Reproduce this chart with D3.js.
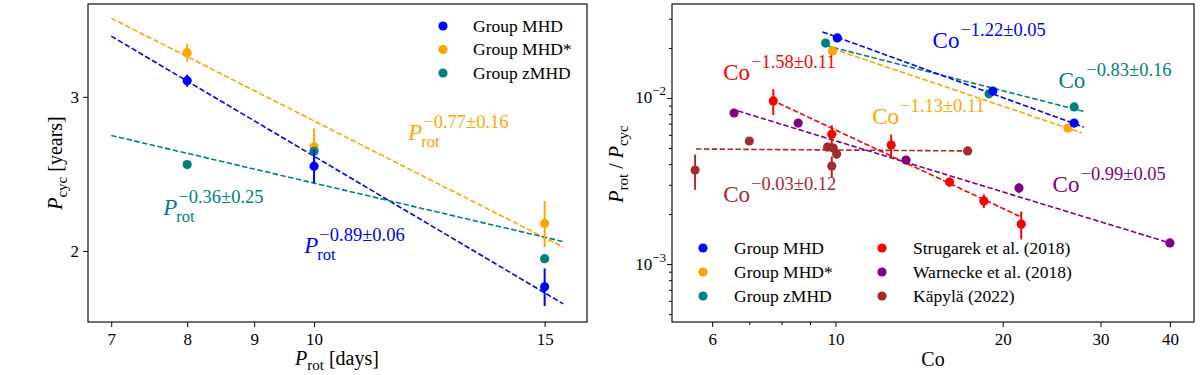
<!DOCTYPE html>
<html>
<head>
<meta charset="utf-8">
<script src="https://cdn.jsdelivr.net/npm/d3@7"></script>
<style>
  body { margin: 0; background: #fff; }
</style>
</head>
<body>
<script>
// ---- left panel data: P_cyc vs P_rot ----
const prot = [8, 10, 15];
const pcycMHD = [3.13, 2.50, 1.82];
const pcycMHDErr = [0.05, 0.11, 0.09];
const pcycMHDs = [3.37, 2.63, 2.15];
const pcycMHDsErr = [0.08, 0.13, 0.13];
const pcycZMHD = [2.51, 2.60, 1.96];
const pcycZMHDErr = [0, 0, 0];

// fitted power laws, end points
const fitProt = [7, 15.5];
const fitMHD = [3.52, 1.74];
const fitMHDs = [3.69, 2.02];
const fitZMHD = [2.71, 2.05];

const xTicksLeft = [7, 8, 9, 10, 15];
const yTicksLeft = [2, 3];

// ---- right panel data: P_rot/P_cyc vs Co ----
const coMHD = [10.08, 19.2, 26.9];
const ratioMHD = [0.0230, 0.0110, 0.00706];
const coMHDs = [9.88, 26.2];
const ratioMHDs = [0.0192, 0.00659];
const coZMHD = [9.6, 18.9, 26.9];
const ratioZMHD = [0.0214, 0.0106, 0.00883];

const coStrugarek = [7.73, 9.85, 12.6, 16.05, 18.5, 21.6];
const ratioStrugarek = [0.0096, 0.00605, 0.00521, 0.00312, 0.0024, 0.00174];
const errStrugarek = [0.0017, 0.0008, 0.0008, 0.0002, 0.00023, 0.00033];

const coWarnecke = [6.57, 8.57, 13.4, 21.4, 40];
const ratioWarnecke = [0.00812, 0.00706, 0.00423, 0.00287, 0.00134];
const errWarnecke = [0, 0, 0, 0.0002, 0];

const coKapyla = [5.59, 7.0, 9.68, 9.91, 10.05, 9.85, 17.3];
const ratioKapyla = [0.00368, 0.00551, 0.00507, 0.0050, 0.0046, 0.00389, 0.0048];
const errKapyla = [0.00088, 0.0003, 0.0003, 0, 0.0003, 0.00055, 0];

const fitCoMHD = [9.48, 28.0], fitRatioMHD = [0.025, 0.00668];
const fitCoMHDs = [9.88, 27.8], fitRatioMHDs = [0.0198, 0.00616];
const fitCoZMHD = [9.6, 28.0], fitRatioZMHD = [0.0207, 0.0083];
const fitCoStrugarek = [7.9, 21.6], fitRatioStrugarek = [0.0093, 0.00192];
const fitCoWarnecke = [6.68, 40], fitRatioWarnecke = [0.00835, 0.00134];
const fitCoKapyla = [5.61, 17.3], fitRatioKapyla = [0.00493, 0.0048];

const xTicksRight = [6, 10, 20, 30, 40];
const xMinorRight = [7, 8, 9];
const yTicksRight = [1e-3, 1e-2];
const yMinorRight = [5e-4, 6e-4, 7e-4, 8e-4, 9e-4, 2e-3, 3e-3, 4e-3, 5e-3, 6e-3, 7e-3, 8e-3, 9e-3, 2e-2, 3e-2];

const C = {
    blue: '#0000ff', orange: '#ffa500', teal: '#008080',
    red: '#ff0000', purple: '#800080', brown: '#a52a2a'
};
// generic 'serif' falls back to a sans face here, so name the font
const FONT = '"Liberation Serif", "DejaVu Serif"';

const svg = d3.select('body').append('svg')
    .attr('width', 1200)
    .attr('height', 375)
    .style('font-family', FONT);

const xL = d3.scaleLog().domain([6.72, 16.16]).range([88, 587]);
const yL = d3.scaleLog().domain([1.659, 3.83]).range([322, 4]);
const xR = d3.scaleLog().domain([5.08, 44.2]).range([672, 1194]);
const yR = d3.scaleLog().domain([4.48e-4, 0.0368]).range([322, 4]);

function zip(xs, ys, es) {
    return xs.map((x, i) => ({ x: x, y: ys[i], e: es ? es[i] : 0 }));
}

function txt(g) {
    return g.append('text').style('font-family', FONT);
}

function fitLine(g, x, y, xs, ys, color) {
    g.append('path')
        .datum(zip(xs, ys))
        .attr('d', d3.line().x(d => x(d.x)).y(d => y(d.y)))
        .attr('fill', 'none')
        .attr('stroke', color)
        .attr('stroke-width', 1.6)
        .attr('stroke-dasharray', '5.5,2.4');
}

function points(g, x, y, data, color) {
    g.selectAll(null).data(data.filter(d => d.e > 0)).enter()
        .append('line')
        .attr('x1', d => x(d.x)).attr('x2', d => x(d.x))
        .attr('y1', d => y(d.y - d.e)).attr('y2', d => y(d.y + d.e))
        .attr('stroke', color)
        .attr('stroke-width', 2);
    g.selectAll(null).data(data).enter()
        .append('circle')
        .attr('cx', d => x(d.x)).attr('cy', d => y(d.y))
        .attr('r', 4.6)
        .attr('fill', color);
}

// base text with a stacked sub- and superscript, like mathtext
function mathText(g, px, py, base, sub, sup, color, italic) {
    const t = txt(g)
        .attr('x', px).attr('y', py)
        .attr('fill', color)
        .attr('font-size', '23px')
        .attr('font-style', italic ? 'italic' : 'normal')
        .text(base);
    const w = t.node().getComputedTextLength();
    if (sub) {
        txt(g).attr('x', px + w - 1).attr('y', py + 7)
            .attr('fill', color).attr('font-size', '16.5px')
            .text(sub);
    }
    txt(g).attr('x', px + w + 1).attr('y', py - 12)
        .attr('fill', color).attr('font-size', '18.5px')
        .text(sup);
}

function styleAxis(a) {
    a.style('font-family', FONT);
    a.select('.domain').remove();
    a.selectAll('.tick line').attr('stroke', '#000').attr('stroke-width', 1);
    a.selectAll('.tick text')
        .attr('fill', '#000')
        .attr('font-size', '17px')
        .style('font-family', FONT);
}

function frame(x, y) {
    svg.append('rect')
        .attr('x', x.range()[0]).attr('y', y.range()[1])
        .attr('width', x.range()[1] - x.range()[0])
        .attr('height', y.range()[0] - y.range()[1])
        .attr('fill', 'none')
        .attr('stroke', '#111')
        .attr('stroke-width', 1.2);
}

// ================= left panel =================
const gL = svg.append('g');

styleAxis(gL.append('g')
    .attr('transform', 'translate(0,322)')
    .call(d3.axisBottom(xL).tickValues(xTicksLeft).tickSize(5).tickPadding(6).tickFormat(d3.format('d'))));
styleAxis(gL.append('g')
    .attr('transform', 'translate(88,0)')
    .call(d3.axisLeft(yL).tickValues(yTicksLeft).tickSize(5).tickPadding(4).tickFormat(d3.format('d'))));

fitLine(gL, xL, yL, fitProt, fitMHDs, C.orange);
fitLine(gL, xL, yL, fitProt, fitMHD, C.blue);
fitLine(gL, xL, yL, fitProt, fitZMHD, C.teal);

points(gL, xL, yL, zip(prot, pcycMHDs, pcycMHDsErr), C.orange);
points(gL, xL, yL, zip(prot, pcycZMHD, pcycZMHDErr), C.teal);
points(gL, xL, yL, zip(prot, pcycMHD, pcycMHDErr), C.blue);

frame(xL, yL);

mathText(gL, xL(11.8), yL(2.68), 'P', 'rot', '\u22120.77\u00b10.16', C.orange, true);
mathText(gL, xL(7.67), yL(2.2), 'P', 'rot', '\u22120.36\u00b10.25', C.teal, true);
mathText(gL, xL(9.83), yL(1.99), 'P', 'rot', '\u22120.89\u00b10.06', C.blue, true);

// legend
const legL = [['Group MHD', C.blue], ['Group MHD*', C.orange], ['Group zMHD', C.teal]];
legL.forEach((d, i) => {
    const yy = 26 + i * 23.5;
    gL.append('circle').attr('cx', 443).attr('cy', yy).attr('r', 4.6).attr('fill', d[1]);
    txt(gL).attr('x', 473).attr('y', yy + 5.5)
        .attr('font-size', '17.5px').attr('fill', '#000').text(d[0]);
});

// axis labels
const yLab = txt(gL)
    .attr('transform', 'translate(62,163) rotate(-90)')
    .attr('text-anchor', 'middle')
    .attr('font-size', '20px');
yLab.append('tspan').attr('font-style', 'italic').text('P');
yLab.append('tspan').attr('dy', 5).attr('font-size', '15px').text('cyc');
yLab.append('tspan').attr('dy', -5).text(' [years]');

const xLab = txt(gL)
    .attr('x', 337).attr('y', 365)
    .attr('text-anchor', 'middle')
    .attr('font-size', '20px');
xLab.append('tspan').attr('font-style', 'italic').text('P');
xLab.append('tspan').attr('dy', 5).attr('font-size', '15px').text('rot');
xLab.append('tspan').attr('dy', -5).text(' [days]');

// ================= right panel =================
const gR = svg.append('g');

styleAxis(gR.append('g')
    .attr('transform', 'translate(0,322)')
    .call(d3.axisBottom(xR).tickValues(xTicksRight).tickSize(5).tickPadding(6).tickFormat(d3.format('d'))));
styleAxis(gR.append('g')
    .attr('transform', 'translate(0,322)')
    .call(d3.axisBottom(xR).tickValues(xMinorRight).tickSize(3).tickFormat('')));
const yAxR = gR.append('g')
    .attr('transform', 'translate(672,0)')
    .call(d3.axisLeft(yR).tickValues(yTicksRight).tickSize(5).tickFormat(''));
styleAxis(yAxR);
yAxR.selectAll('.tick').each(function (d) {
    const t = txt(d3.select(this))
        .attr('x', -6).attr('y', 5)
        .attr('text-anchor', 'end')
        .attr('fill', '#000')
        .attr('font-size', '17px');
    t.append('tspan').text('10');
    t.append('tspan').attr('dy', -8).attr('font-size', '13px').text('\u2212' + Math.round(-Math.log10(d)));
});
styleAxis(gR.append('g')
    .attr('transform', 'translate(672,0)')
    .call(d3.axisLeft(yR).tickValues(yMinorRight).tickSize(3).tickFormat('')));

fitLine(gR, xR, yR, fitCoKapyla, fitRatioKapyla, C.brown);
fitLine(gR, xR, yR, fitCoWarnecke, fitRatioWarnecke, C.purple);
fitLine(gR, xR, yR, fitCoStrugarek, fitRatioStrugarek, C.red);
fitLine(gR, xR, yR, fitCoMHDs, fitRatioMHDs, C.orange);
fitLine(gR, xR, yR, fitCoZMHD, fitRatioZMHD, C.teal);
fitLine(gR, xR, yR, fitCoMHD, fitRatioMHD, C.blue);

points(gR, xR, yR, zip(coWarnecke, ratioWarnecke, errWarnecke), C.purple);
points(gR, xR, yR, zip(coStrugarek, ratioStrugarek, errStrugarek), C.red);
points(gR, xR, yR, zip(coKapyla, ratioKapyla, errKapyla), C.brown);
points(gR, xR, yR, zip(coMHDs, ratioMHDs), C.orange);
points(gR, xR, yR, zip(coZMHD, ratioZMHD), C.teal);
points(gR, xR, yR, zip(coMHD, ratioMHD), C.blue);

frame(xR, yR);

mathText(gR, xR(6.28), yR(0.01283), 'Co', null, '\u22121.58\u00b10.11', C.red, false);
mathText(gR, xR(14.96), yR(0.0200), 'Co', null, '\u22121.22\u00b10.05', C.blue, false);
mathText(gR, xR(25.2), yR(0.01149), 'Co', null, '\u22120.83\u00b10.16', C.teal, false);
mathText(gR, xR(11.65), yR(0.00697), 'Co', null, '\u22121.13\u00b10.11', C.orange, false);
mathText(gR, xR(24.6), yR(0.00272), 'Co', null, '\u22120.99\u00b10.05', C.purple, false);
mathText(gR, xR(6.28), yR(0.00236), 'Co', null, '\u22120.03\u00b10.12', C.brown, false);

// two-column legend
const legR = [
    ['Group MHD', C.blue], ['Group MHD*', C.orange], ['Group zMHD', C.teal],
    ['Strugarek et al. (2018)', C.red], ['Warnecke et al. (2018)', C.purple], ['K\u00e4pyl\u00e4 (2022)', C.brown]
];
legR.forEach((d, i) => {
    const col = Math.floor(i / 3), row = i % 3;
    const cx = col ? 882 : 703;
    const yy = 248 + row * 24;
    gR.append('circle').attr('cx', cx).attr('cy', yy).attr('r', 4.6).attr('fill', d[1]);
    txt(gR).attr('x', cx + 31).attr('y', yy + 5.5)
        .attr('font-size', '17.5px').attr('fill', '#000').text(d[0]);
});

const yLabR = txt(gR)
    .attr('transform', 'translate(623,164) rotate(-90)')
    .attr('text-anchor', 'middle')
    .attr('font-size', '20px');
yLabR.append('tspan').attr('font-style', 'italic').text('P');
yLabR.append('tspan').attr('dy', 5).attr('font-size', '15px').text('rot');
yLabR.append('tspan').attr('dy', -5).text(' / ');
yLabR.append('tspan').attr('font-style', 'italic').text('P');
yLabR.append('tspan').attr('dy', 5).attr('font-size', '15px').text('cyc');

txt(gR)
    .attr('x', 933).attr('y', 366)
    .attr('text-anchor', 'middle')
    .attr('font-size', '20px')
    .text('Co');
</script>
</body>
</html>
